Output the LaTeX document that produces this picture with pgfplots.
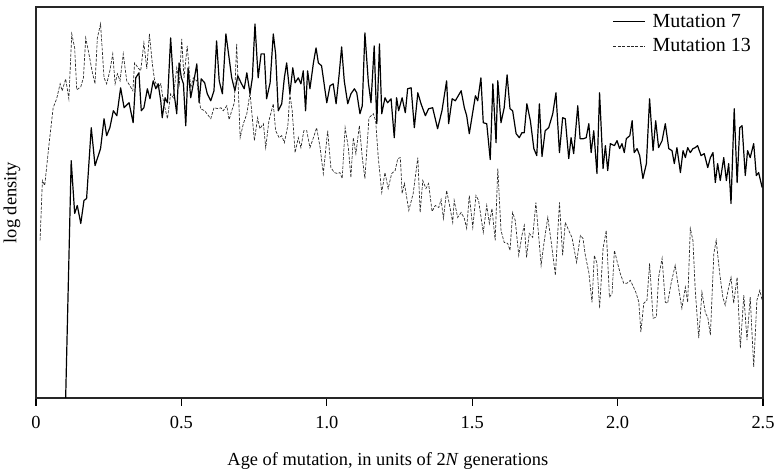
\documentclass[border=0pt]{standalone}
\usepackage{fontspec}
\setmainfont{Liberation Serif}
\usepackage{pgfplots}
\usepackage{pgfplotstable}
\pgfplotsset{compat=1.18}

\pgfplotstableread{
x y
0.102 0
0.121 238
0.133 185
0.142 193
0.154 175
0.165 198
0.174 200
0.190 271
0.203 233
0.222 250
0.234 280
0.243 263
0.254 271
0.266 288
0.278 283
0.291 311
0.303 291
0.320 296
0.334 276
0.343 321
0.354 326
0.362 288
0.371 291
0.383 310
0.392 300
0.403 318
0.412 310
0.420 315
0.429 298
0.434 281
0.444 301
0.452 296
0.463 361
0.475 305
0.484 285
0.492 336
0.500 321
0.507 315
0.515 273
0.523 331
0.532 301
0.543 318
0.553 335
0.561 296
0.568 320
0.580 316
0.589 305
0.601 298
0.612 308
0.621 358
0.630 318
0.641 305
0.653 365
0.664 341
0.673 321
0.684 308
0.694 323
0.705 316
0.716 310
0.725 326
0.736 305
0.744 321
0.753 375
0.764 321
0.774 345
0.785 345
0.793 300
0.805 316
0.816 365
0.824 345
0.833 288
0.845 295
0.854 321
0.862 336
0.873 305
0.883 331
0.891 316
0.902 321
0.911 315
0.919 328
0.927 288
0.934 328
0.942 310
0.954 336
0.963 351
0.971 336
0.982 333
1.000 296
1.011 313
1.022 315
1.032 295
1.042 323
1.051 352
1.060 318
1.072 295
1.083 305
1.095 310
1.103 306
1.114 285
1.122 293
1.131 366
1.143 316
1.152 296
1.163 353
1.172 275
1.181 355
1.189 285
1.200 301
1.209 296
1.221 300
1.232 261
1.240 301
1.247 288
1.259 301
1.270 286
1.278 310
1.290 311
1.301 271
1.313 306
1.324 295
1.339 283
1.350 290
1.364 291
1.381 270
1.396 288
1.412 318
1.419 275
1.431 300
1.442 298
1.462 308
1.473 291
1.481 283
1.490 265
1.511 303
1.519 298
1.530 321
1.538 276
1.550 275
1.562 239
1.571 315
1.582 256
1.588 318
1.599 276
1.610 291
1.620 324
1.630 290
1.639 288
1.651 265
1.662 261
1.671 266
1.679 266
1.688 295
1.700 278
1.712 250
1.722 243
1.731 295
1.740 242
1.751 268
1.763 271
1.777 285
1.788 306
1.800 246
1.811 281
1.820 280
1.832 240
1.840 261
1.849 245
1.863 293
1.871 260
1.883 260
1.892 261
1.901 275
1.909 246
1.918 268
1.929 225
1.938 306
1.950 230
1.958 253
1.966 228
1.975 255
1.989 253
1.998 258
2.007 250
2.015 255
2.023 246
2.030 260
2.042 263
2.050 278
2.057 246
2.067 250
2.076 243
2.087 220
2.099 235
2.110 300
2.122 248
2.131 278
2.141 251
2.153 258
2.164 275
2.176 250
2.187 248
2.195 235
2.204 251
2.216 226
2.225 248
2.233 241
2.241 251
2.250 246
2.259 250
2.267 251
2.275 253
2.287 243
2.298 245
2.310 231
2.319 241
2.328 246
2.336 216
2.344 235
2.353 218
2.365 241
2.374 218
2.382 235
2.390 195
2.401 290
2.411 216
2.420 271
2.428 273
2.439 223
2.447 248
2.456 241
2.468 255
2.477 223
2.485 226
2.497 211
}\mutseven

\pgfplotstableread{
x y
0.014 158
0.022 218
0.030 213
0.045 255
0.059 291
0.071 300
0.083 315
0.090 308
0.102 320
0.113 300
0.123 365
0.133 351
0.140 309
0.154 312
0.163 321
0.171 361
0.182 345
0.194 326
0.203 315
0.211 361
0.222 375
0.234 321
0.243 315
0.254 328
0.264 345
0.272 315
0.280 325
0.289 318
0.300 345
0.312 318
0.323 313
0.333 308
0.339 336
0.351 331
0.360 328
0.371 356
0.381 330
0.390 365
0.400 335
0.408 318
0.420 311
0.429 315
0.438 298
0.452 280
0.463 305
0.472 301
0.484 331
0.493 315
0.501 360
0.509 321
0.520 353
0.532 311
0.541 321
0.553 318
0.566 290
0.580 288
0.601 280
0.612 291
0.627 290
0.636 291
0.644 288
0.656 293
0.664 279
0.673 288
0.682 296
0.690 355
0.702 261
0.713 275
0.725 285
0.736 306
0.751 258
0.762 281
0.770 270
0.782 275
0.790 251
0.801 278
0.816 295
0.824 268
0.836 261
0.845 263
0.854 256
0.866 273
0.873 305
0.881 288
0.891 246
0.902 261
0.911 251
0.921 268
0.931 268
0.942 251
0.954 261
0.965 271
0.977 251
0.988 225
1.003 268
1.014 231
1.026 226
1.037 225
1.045 226
1.053 220
1.063 271
1.074 251
1.083 221
1.091 261
1.100 245
1.112 273
1.122 241
1.131 220
1.145 281
1.160 285
1.168 278
1.177 241
1.189 206
1.200 226
1.211 210
1.223 225
1.235 228
1.244 240
1.253 241
1.259 205
1.267 215
1.282 188
1.297 205
1.313 241
1.321 186
1.330 218
1.341 210
1.350 215
1.362 187
1.373 193
1.385 191
1.393 199
1.401 180
1.412 208
1.421 195
1.433 176
1.438 198
1.450 181
1.462 186
1.473 180
1.481 170
1.490 203
1.502 171
1.513 203
1.522 198
1.538 166
1.550 193
1.559 175
1.568 190
1.579 158
1.588 230
1.599 168
1.610 156
1.622 155
1.630 148
1.639 186
1.648 178
1.660 143
1.671 163
1.679 173
1.687 141
1.696 165
1.708 161
1.719 196
1.737 133
1.748 158
1.760 181
1.771 158
1.786 123
1.800 196
1.811 143
1.820 176
1.832 168
1.843 161
1.859 136
1.872 163
1.881 160
1.889 143
1.901 126
1.912 96
1.920 143
1.929 135
1.938 90
1.950 150
1.961 168
1.972 101
1.981 105
1.989 148
2.000 135
2.009 125
2.021 115
2.032 115
2.044 118
2.055 111
2.064 105
2.073 96
2.080 66
2.090 95
2.101 98
2.110 135
2.122 80
2.133 81
2.141 121
2.153 140
2.164 96
2.172 95
2.184 115
2.198 133
2.210 110
2.221 90
2.233 111
2.241 96
2.250 170
2.259 158
2.267 108
2.279 60
2.290 106
2.302 85
2.310 81
2.319 63
2.331 145
2.339 158
2.351 125
2.362 101
2.370 93
2.382 111
2.390 121
2.399 95
2.411 121
2.422 50
2.434 103
2.445 58
2.456 101
2.468 31
2.479 98
2.489 108
2.497 98
}\mutthirteen

\begin{document}
\begin{tikzpicture}
\begin{axis}[
  name=ax,
  scale only axis,
  width=545.25pt, height=293.25pt,
  xmin=0, xmax=2.5, ymin=0, ymax=392,
  xtick={0,0.5,1,1.5,2,2.5},
  xticklabels={0,0.5,1.0,1.5,2.0,2.5},
  ytick=\empty,
  xtick pos=bottom,
  tick align=outside,
  major tick length=6pt,
  every tick/.style={black, line width=1pt},
  axis line style={black!85, line width=1.3pt},
  tick label style={font=\fontsize{13.8}{16}\selectfont},
  xticklabel style={yshift=-4.5pt},
  /pgf/number format/assume math mode=true,
  xlabel={Age of mutation, in units of 2\textit{N} generations},
  ylabel={log density},
  every axis x label/.style={at={(axis description cs:0.484,-0.161)}, anchor=center, font=\fontsize{13.8}{16}\selectfont},
  every axis y label/.style={at={(axis description cs:-0.033,0.5)}, rotate=90, anchor=center, font=\fontsize{13.8}{16}\selectfont},
  legend style={draw=none, fill=none, at={(axis description cs:0.993,0.997)}, anchor=north east,
    font=\fontsize{15}{18}\selectfont, row sep=3pt, cells={anchor=west}},
  legend image code/.code={\draw[#1] (0pt,0pt) -- (24pt,0pt); \path (27pt,0pt);},
  clip=true,
]
\addplot[black, line width=0.9pt, line join=round] table[x=x,y=y] {\mutseven};
\addlegendentry{Mutation 7}
\addplot[black!85, line width=0.5pt, dash pattern=on 2.2pt off 1.1pt] table[x=x,y=y] {\mutthirteen};
\addlegendentry{Mutation 13}
\end{axis}
\pgfresetboundingbox
\path[use as bounding box] ([shift={(-27pt,-57pt)}]ax.south west) rectangle ([shift={(11.25pt,5.25pt)}]ax.north east);
\end{tikzpicture}
\end{document}
